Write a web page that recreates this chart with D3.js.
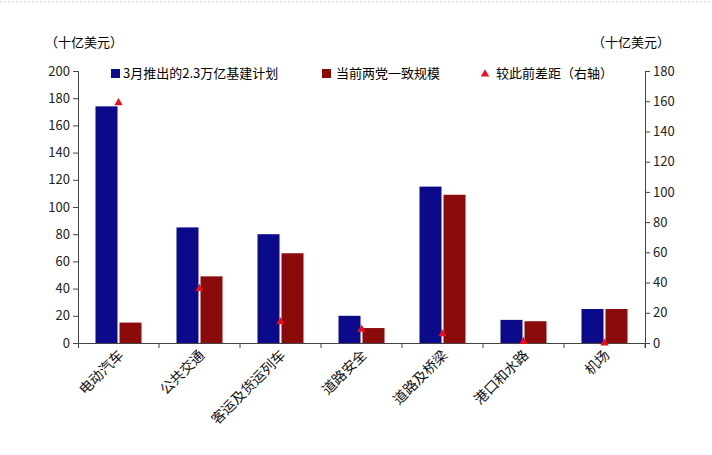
<!DOCTYPE html><html><head><meta charset="utf-8"><script src="https://cdn.jsdelivr.net/npm/d3@7"></script>
<style>body{margin:0;background:#fff}text{font-family:"Noto Sans CJK SC","Noto Sans",sans-serif}</style></head><body><svg id="c" width="712" height="455"></svg><script>
const categories=["电动汽车","公共交通","客运及货运列车","道路安全","道路及桥梁","港口和水路","机场"];
const planValues=[174,85,80,20,115,17,25];
const currentValues=[15,49,66,11,109,16,25];
const gapValues=[159,36,14,9,6,1,0];
const leftTicks=[0,20,40,60,80,100,120,140,160,180,200];
const rightTicks=[0,20,40,60,80,100,120,140,160,180];
const svg=d3.select("#c");
const x=d3.scaleBand().domain(categories).range([78,645]);
const yL=d3.scaleLinear().domain([0,200]).range([343,71]);
const yR=d3.scaleLinear().domain([0,180]).range([343,71]);
svg.append("line").attr("x1",0).attr("x2",712).attr("y1",2).attr("y2",2).attr("stroke","#ccc").attr("stroke-dasharray","2,2");
const gl=svg.append("g").attr("transform","translate(78,0)").call(d3.axisLeft(yL).tickValues(leftTicks).tickSize(5));
const gr=svg.append("g").attr("transform","translate(645,0)").call(d3.axisRight(yR).tickValues(rightTicks).tickSize(5));
const gb=svg.append("g").attr("transform","translate(0,343)").call(d3.axisBottom(x).tickSize(5).tickFormat(""));
[gl,gr,gb].forEach(g=>{g.selectAll("path,line").attr("stroke","#444");g.selectAll("text").attr("font-size",13).attr("fill","#222");});
gb.selectAll(".tick line").attr("transform",`translate(${x.bandwidth()/2},0)`);
const bw=22;
svg.selectAll(".b1").data(categories).join("rect").attr("x",d=>x(d)+x.bandwidth()/2-bw-1).attr("width",bw)
 .attr("y",(d,i)=>yL(planValues[i])).attr("height",(d,i)=>343-yL(planValues[i])).attr("fill","#0a0a8a");
svg.selectAll(".b2").data(categories).join("rect").attr("x",d=>x(d)+x.bandwidth()/2+1).attr("width",bw)
 .attr("y",(d,i)=>yL(currentValues[i])).attr("height",(d,i)=>343-yL(currentValues[i])).attr("fill","#8b0a0a");
const tri=d3.symbol().type(d3.symbolTriangle).size(30);
svg.selectAll(".t").data(categories).join("path").attr("d",tri)
 .attr("transform",(d,i)=>`translate(${x(d)+x.bandwidth()/2},${yR(gapValues[i])})`).attr("fill","#e8121e");
svg.selectAll(".cl").data(categories).join("text").attr("font-size",14).attr("fill","#111").attr("text-anchor","end")
 .attr("transform",d=>`translate(${x(d)+x.bandwidth()/2+6},${356}) rotate(-45)`).text(d=>d);
svg.append("text").attr("x",45).attr("y",47).attr("font-size",13).text("（十亿美元）");
svg.append("text").attr("x",592).attr("y",47).attr("font-size",13).text("（十亿美元）");
const lg=svg.append("g").attr("font-size",13);
lg.append("rect").attr("x",111).attr("y",69).attr("width",9).attr("height",9).attr("fill","#0a0a8a");
lg.append("text").attr("x",123).attr("y",78).text("3月推出的2.3万亿基建计划");
lg.append("rect").attr("x",322).attr("y",69).attr("width",9).attr("height",9).attr("fill","#8b0a0a");
lg.append("text").attr("x",336).attr("y",78).text("当前两党一致规模");
lg.append("path").attr("d",tri).attr("transform","translate(485,74)").attr("fill","#e8121e");
lg.append("text").attr("x",496).attr("y",78).text("较此前差距（右轴）");
</script></body></html>
